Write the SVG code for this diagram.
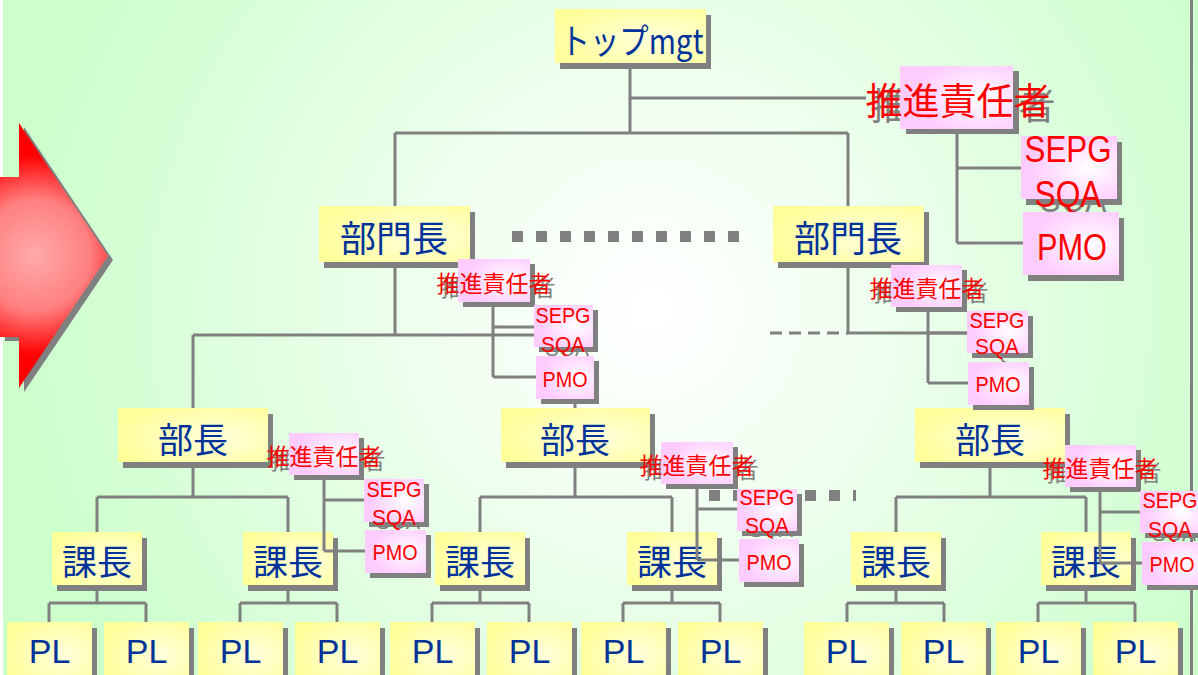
<svg xmlns="http://www.w3.org/2000/svg" width="1198" height="675" viewBox="0 0 1198 675">
<defs>
<radialGradient id="bg" gradientUnits="userSpaceOnUse" cx="650" cy="310" r="640">
<stop offset="0" stop-color="#ffffff"/><stop offset="0.25" stop-color="#f4fff4"/><stop offset="1" stop-color="#ccffcc"/>
</radialGradient>
<radialGradient id="gy" cx="0.65" cy="0.55" r="0.7">
<stop offset="0" stop-color="#ffffdd"/><stop offset="1" stop-color="#ffff99"/>
</radialGradient>
<radialGradient id="gp" cx="0.7" cy="0.5" r="0.6">
<stop offset="0" stop-color="#ffffff"/><stop offset="1" stop-color="#ffccff"/>
</radialGradient>
<radialGradient id="ga" gradientUnits="userSpaceOnUse" cx="35" cy="255" r="100">
<stop offset="0" stop-color="#ffaaaa"/><stop offset="0.55" stop-color="#ff8080"/><stop offset="1" stop-color="#ff0000"/>
</radialGradient>
<style>
.sh{fill:#808080}
.yb{fill:url(#gy)}
.pb{fill:url(#gp)}
.ln{stroke:#808080;stroke-width:3;fill:none}
.dash{stroke:#808080;stroke-width:3;fill:none;stroke-dasharray:12 7}
.bt{fill:#003399;font-family:"Noto Sans CJK JP",sans-serif;text-anchor:middle}
.pl{fill:#003399;font-family:"Liberation Sans",Arial,sans-serif;font-size:34px;text-anchor:middle}
.rt{fill:#ff0000;font-family:"Liberation Sans","Noto Sans CJK JP",sans-serif;text-anchor:middle}
.gt{fill:#808080;font-family:"Liberation Sans","Noto Sans CJK JP",sans-serif;text-anchor:middle}
.big{font-size:37px}
.mid{font-size:36px}
.sm{font-size:23px}
.xs{font-size:22px}
</style>
</defs>
<rect x="0" y="0" width="1198" height="675" fill="#ffffff"/>
<rect x="3" y="0" width="1195" height="675" fill="url(#bg)"/>
<rect x="1190" y="0" width="3" height="675" fill="#808080"/>

<g id="arrow">
<polygon class="sh" points="5,181 24,181 24,127 113,260 24,392 24,341 5,341"/>
<polygon fill="url(#ga)" points="0,177 19,177 19,123 108,256 19,388 19,337 0,337"/>
</g>

<g id="dots">
<rect class="sh" x="512" y="231" width="11" height="11"/>
<rect class="sh" x="536" y="231" width="11" height="11"/>
<rect class="sh" x="560" y="231" width="11" height="11"/>
<rect class="sh" x="584" y="231" width="11" height="11"/>
<rect class="sh" x="608" y="231" width="11" height="11"/>
<rect class="sh" x="632" y="231" width="11" height="11"/>
<rect class="sh" x="656" y="231" width="11" height="11"/>
<rect class="sh" x="680" y="231" width="11" height="11"/>
<rect class="sh" x="704" y="231" width="11" height="11"/>
<rect class="sh" x="728" y="231" width="11" height="11"/>
<rect class="sh" x="709" y="490" width="11" height="11"/>
<rect class="sh" x="733" y="490" width="11" height="11"/>
<rect class="sh" x="757" y="490" width="11" height="11"/>
<rect class="sh" x="781" y="490" width="11" height="11"/>
<rect class="sh" x="805" y="490" width="11" height="11"/>
<rect class="sh" x="829" y="490" width="11" height="11"/>
<rect class="sh" x="853" y="490" width="3" height="11"/>
</g>

<g id="top">
<rect class="sh" x="560" y="15" width="151" height="54"/>
<rect class="yb" x="555" y="9" width="151" height="54"/>
<text class="bt" x="632" y="54" font-size="35" textLength="143" lengthAdjust="spacingAndGlyphs">トップmgt</text>
</g>

<g id="bumon-left">
<rect class="sh" x="324" y="212" width="151" height="56"/>
<rect class="yb" x="319" y="206" width="151" height="56"/>
<text class="bt" x="394" y="252" font-size="36">部門長</text>
</g>
<g id="bumon-right">
<rect class="sh" x="778" y="212" width="151" height="56"/>
<rect class="yb" x="773" y="206" width="151" height="56"/>
<text class="bt" x="848" y="252" font-size="36">部門長</text>
</g>

<g id="bucho-left">
<rect class="sh" x="123" y="414" width="150" height="54"/>
<rect class="yb" x="118" y="408" width="150" height="54"/>
<text class="bt" x="193" y="453" font-size="35">部長</text>
</g>
<g id="bucho-mid">
<rect class="sh" x="506" y="414" width="149" height="54"/>
<rect class="yb" x="501" y="408" width="149" height="54"/>
<text class="bt" x="575" y="453" font-size="35">部長</text>
</g>
<g id="bucho-right">
<rect class="sh" x="920" y="414" width="150" height="54"/>
<rect class="yb" x="915" y="408" width="150" height="54"/>
<text class="bt" x="990" y="453" font-size="35">部長</text>
</g>

<g id="kacho-1"><rect class="sh" x="57" y="538" width="90" height="53"/><rect class="yb" x="52" y="532" width="90" height="53"/><text class="bt" x="97" y="575" font-size="35">課長</text></g>
<g id="kacho-2"><rect class="sh" x="248" y="538" width="90" height="53"/><rect class="yb" x="243" y="532" width="90" height="53"/><text class="bt" x="288" y="575" font-size="35">課長</text></g>
<g id="kacho-3"><rect class="sh" x="440" y="538" width="90" height="53"/><rect class="yb" x="435" y="532" width="90" height="53"/><text class="bt" x="480" y="575" font-size="35">課長</text></g>
<g id="kacho-4"><rect class="sh" x="632" y="538" width="90" height="53"/><rect class="yb" x="627" y="532" width="90" height="53"/><text class="bt" x="672" y="575" font-size="35">課長</text></g>
<g id="kacho-5"><rect class="sh" x="856" y="538" width="90" height="53"/><rect class="yb" x="851" y="532" width="90" height="53"/><text class="bt" x="896" y="575" font-size="35">課長</text></g>
<g id="kacho-6"><rect class="sh" x="1046" y="538" width="90" height="53"/><rect class="yb" x="1041" y="532" width="90" height="53"/><text class="bt" x="1086" y="575" font-size="35">課長</text></g>

<g id="pl-1"><rect class="sh" x="12" y="628" width="85" height="60"/><rect class="yb" x="7" y="622" width="85" height="60"/><text class="pl" x="49.5" y="663">PL</text></g>
<g id="pl-2"><rect class="sh" x="109" y="628" width="85" height="60"/><rect class="yb" x="104" y="622" width="85" height="60"/><text class="pl" x="146.5" y="663">PL</text></g>
<g id="pl-3"><rect class="sh" x="203" y="628" width="85" height="60"/><rect class="yb" x="198" y="622" width="85" height="60"/><text class="pl" x="240.5" y="663">PL</text></g>
<g id="pl-4"><rect class="sh" x="300" y="628" width="85" height="60"/><rect class="yb" x="295" y="622" width="85" height="60"/><text class="pl" x="337.5" y="663">PL</text></g>
<g id="pl-5"><rect class="sh" x="395" y="628" width="85" height="60"/><rect class="yb" x="390" y="622" width="85" height="60"/><text class="pl" x="432.5" y="663">PL</text></g>
<g id="pl-6"><rect class="sh" x="492" y="628" width="85" height="60"/><rect class="yb" x="487" y="622" width="85" height="60"/><text class="pl" x="529.5" y="663">PL</text></g>
<g id="pl-7"><rect class="sh" x="586" y="628" width="85" height="60"/><rect class="yb" x="581" y="622" width="85" height="60"/><text class="pl" x="623.5" y="663">PL</text></g>
<g id="pl-8"><rect class="sh" x="683" y="628" width="85" height="60"/><rect class="yb" x="678" y="622" width="85" height="60"/><text class="pl" x="720.5" y="663">PL</text></g>
<g id="pl-9"><rect class="sh" x="809" y="628" width="85" height="60"/><rect class="yb" x="804" y="622" width="85" height="60"/><text class="pl" x="846.5" y="663">PL</text></g>
<g id="pl-10"><rect class="sh" x="906" y="628" width="85" height="60"/><rect class="yb" x="901" y="622" width="85" height="60"/><text class="pl" x="943.5" y="663">PL</text></g>
<g id="pl-11"><rect class="sh" x="1001" y="628" width="85" height="60"/><rect class="yb" x="996" y="622" width="85" height="60"/><text class="pl" x="1038.5" y="663">PL</text></g>
<g id="pl-12"><rect class="sh" x="1098" y="628" width="85" height="60"/><rect class="yb" x="1093" y="622" width="85" height="60"/><text class="pl" x="1135.5" y="663">PL</text></g>

<g id="connectors">
<path class="ln" d="M630 63V133M395 133H848M395 133V206M848 133V206M630 98H866"/>
<path class="ln" d="M395 262V335M193 335H534M193 335V408M575 399V408"/>
<path class="ln" d="M848 262V333H967"/>
<path class="dash" d="M770 333H848"/>
<path class="ln" d="M193 462V497M97 497H288M97 497V532M288 497V532"/>
<path class="ln" d="M575 462V497M480 497H672M480 497V532M672 497V532"/>
<path class="ln" d="M990 462V497M896 497H1086M896 497V532M1086 497V532"/>
<path class="ln" d="M97 585V603M49 603H146M49 603V622M146 603V622"/>
<path class="ln" d="M288 585V603M240 603H337M240 603V622M337 603V622"/>
<path class="ln" d="M480 585V603M432 603H529M432 603V622M529 603V622"/>
<path class="ln" d="M672 585V603M623 603H720M623 603V622M720 603V622"/>
<path class="ln" d="M896 585V603M847 603H944M847 603V622M944 603V622"/>
<path class="ln" d="M1086 585V603M1038 603H1135M1038 603V622M1135 603V622"/>
<path class="ln" d="M957 129V243M957 168H1021M957 243H1023"/>
<path class="ln" d="M493 302V377M493 327H534M493 377H536"/>
<path class="ln" d="M928 307V383M928 333H967M928 383H968"/>
<path class="ln" d="M324 475V551M324 500H364M324 551H365"/>
<path class="ln" d="M697 484V560M697 509H737M697 560H739"/>
<path class="ln" d="M1100 487V563M1100 512H1140M1100 563H1142"/>
</g>

<g id="suishin-top">
<rect class="sh" x="906" y="71" width="113" height="63"/>
<text class="gt big" x="963" y="120">推進責任者</text>
<rect class="pb" x="900" y="66" width="113" height="63"/>
<text class="rt big" x="958" y="115">推進責任者</text>
</g>
<g id="sepg-top">
<rect class="sh" x="1026" y="142" width="96" height="63"/>
<text class="gt mid" x="1073" y="212" textLength="67" lengthAdjust="spacingAndGlyphs">SQA</text>
<rect class="pb" x="1021" y="136" width="96" height="63"/>
<text class="rt mid" x="1068" y="162" textLength="87" lengthAdjust="spacingAndGlyphs">SEPG</text>
<text class="rt mid" x="1068" y="207" textLength="67" lengthAdjust="spacingAndGlyphs">SQA</text>
</g>
<g id="pmo-top">
<rect class="sh" x="1028" y="218" width="96" height="63"/>
<rect class="pb" x="1023" y="212" width="96" height="63"/>
<text class="rt mid" x="1072" y="260" textLength="70" lengthAdjust="spacingAndGlyphs">PMO</text>
</g>

<g id="suishin-bumon-left">
<rect class="sh" x="463" y="264" width="72" height="43"/>
<text class="gt sm" x="498" y="296">推進責任者</text>
<rect class="pb" x="458" y="259" width="72" height="43"/>
<text class="rt sm" x="494" y="292">推進責任者</text>
</g>
<g id="sepg-bumon-left">
<rect class="sh" x="539" y="310" width="59" height="42"/>
<text class="gt xs" x="567" y="356" textLength="44" lengthAdjust="spacingAndGlyphs">SQA</text>
<rect class="pb" x="534" y="305" width="59" height="42"/>
<text class="rt xs" x="563" y="323" textLength="55" lengthAdjust="spacingAndGlyphs">SEPG</text>
<text class="rt xs" x="563" y="352" textLength="44" lengthAdjust="spacingAndGlyphs">SQA</text>
</g>
<g id="pmo-bumon-left">
<rect class="sh" x="541" y="361" width="58" height="43"/>
<rect class="pb" x="536" y="356" width="58" height="43"/>
<text class="rt xs" x="565" y="387" textLength="45" lengthAdjust="spacingAndGlyphs">PMO</text>
</g>

<g id="suishin-bumon-right">
<rect class="sh" x="896" y="270" width="71" height="42"/>
<text class="gt sm" x="931" y="301">推進責任者</text>
<rect class="pb" x="891" y="265" width="71" height="42"/>
<text class="rt sm" x="927" y="297">推進責任者</text>
</g>
<g id="sepg-bumon-right">
<rect class="sh" x="972" y="316" width="61" height="42"/>
<text class="gt xs" x="1001" y="358" textLength="44" lengthAdjust="spacingAndGlyphs">SQA</text>
<rect class="pb" x="967" y="311" width="61" height="42"/>
<text class="rt xs" x="997" y="328" textLength="55" lengthAdjust="spacingAndGlyphs">SEPG</text>
<text class="rt xs" x="997" y="354" textLength="44" lengthAdjust="spacingAndGlyphs">SQA</text>
</g>
<g id="pmo-bumon-right">
<rect class="sh" x="973" y="367" width="61" height="43"/>
<rect class="pb" x="968" y="362" width="61" height="43"/>
<text class="rt xs" x="998" y="392" textLength="45" lengthAdjust="spacingAndGlyphs">PMO</text>
</g>

<g id="suishin-bucho-left">
<rect class="sh" x="294" y="438" width="70" height="42"/>
<text class="gt sm" x="328" y="469">推進責任者</text>
<rect class="pb" x="289" y="433" width="70" height="42"/>
<text class="rt sm" x="324" y="465">推進責任者</text>
</g>
<g id="sepg-bucho-left">
<rect class="sh" x="369" y="484" width="60" height="43"/>
<text class="gt xs" x="398" y="529" textLength="44" lengthAdjust="spacingAndGlyphs">SQA</text>
<rect class="pb" x="364" y="479" width="60" height="43"/>
<text class="rt xs" x="394" y="497" textLength="55" lengthAdjust="spacingAndGlyphs">SEPG</text>
<text class="rt xs" x="394" y="525" textLength="44" lengthAdjust="spacingAndGlyphs">SQA</text>
</g>
<g id="pmo-bucho-left">
<rect class="sh" x="370" y="535" width="61" height="43"/>
<rect class="pb" x="365" y="530" width="61" height="43"/>
<text class="rt xs" x="395" y="560" textLength="45" lengthAdjust="spacingAndGlyphs">PMO</text>
</g>

<g id="suishin-bucho-mid">
<rect class="sh" x="666" y="447" width="72" height="42"/>
<text class="gt sm" x="701" y="478">推進責任者</text>
<rect class="pb" x="661" y="442" width="72" height="42"/>
<text class="rt sm" x="697" y="474">推進責任者</text>
</g>
<g id="sepg-bucho-mid">
<rect class="sh" x="742" y="494" width="60" height="42"/>
<text class="gt xs" x="771" y="537" textLength="44" lengthAdjust="spacingAndGlyphs">SQA</text>
<rect class="pb" x="737" y="489" width="60" height="42"/>
<text class="rt xs" x="767" y="505" textLength="55" lengthAdjust="spacingAndGlyphs">SEPG</text>
<text class="rt xs" x="767" y="533" textLength="44" lengthAdjust="spacingAndGlyphs">SQA</text>
</g>
<g id="pmo-bucho-mid">
<rect class="sh" x="744" y="544" width="60" height="43"/>
<rect class="pb" x="739" y="539" width="60" height="43"/>
<text class="rt xs" x="769" y="570" textLength="45" lengthAdjust="spacingAndGlyphs">PMO</text>
</g>

<g id="suishin-bucho-right">
<rect class="sh" x="1070" y="450" width="71" height="42"/>
<text class="gt sm" x="1104" y="481">推進責任者</text>
<rect class="pb" x="1065" y="445" width="71" height="42"/>
<text class="rt sm" x="1100" y="477">推進責任者</text>
</g>
<g id="sepg-bucho-right">
<rect class="sh" x="1145" y="496" width="60" height="42"/>
<text class="gt xs" x="1174" y="541" textLength="44" lengthAdjust="spacingAndGlyphs">SQA</text>
<rect class="pb" x="1140" y="491" width="60" height="42"/>
<text class="rt xs" x="1170" y="508" textLength="55" lengthAdjust="spacingAndGlyphs">SEPG</text>
<text class="rt xs" x="1170" y="537" textLength="44" lengthAdjust="spacingAndGlyphs">SQA</text>
</g>
<g id="pmo-bucho-right">
<rect class="sh" x="1147" y="547" width="60" height="43"/>
<rect class="pb" x="1142" y="542" width="60" height="43"/>
<text class="rt xs" x="1172" y="572" textLength="45" lengthAdjust="spacingAndGlyphs">PMO</text>
</g>
</svg>
